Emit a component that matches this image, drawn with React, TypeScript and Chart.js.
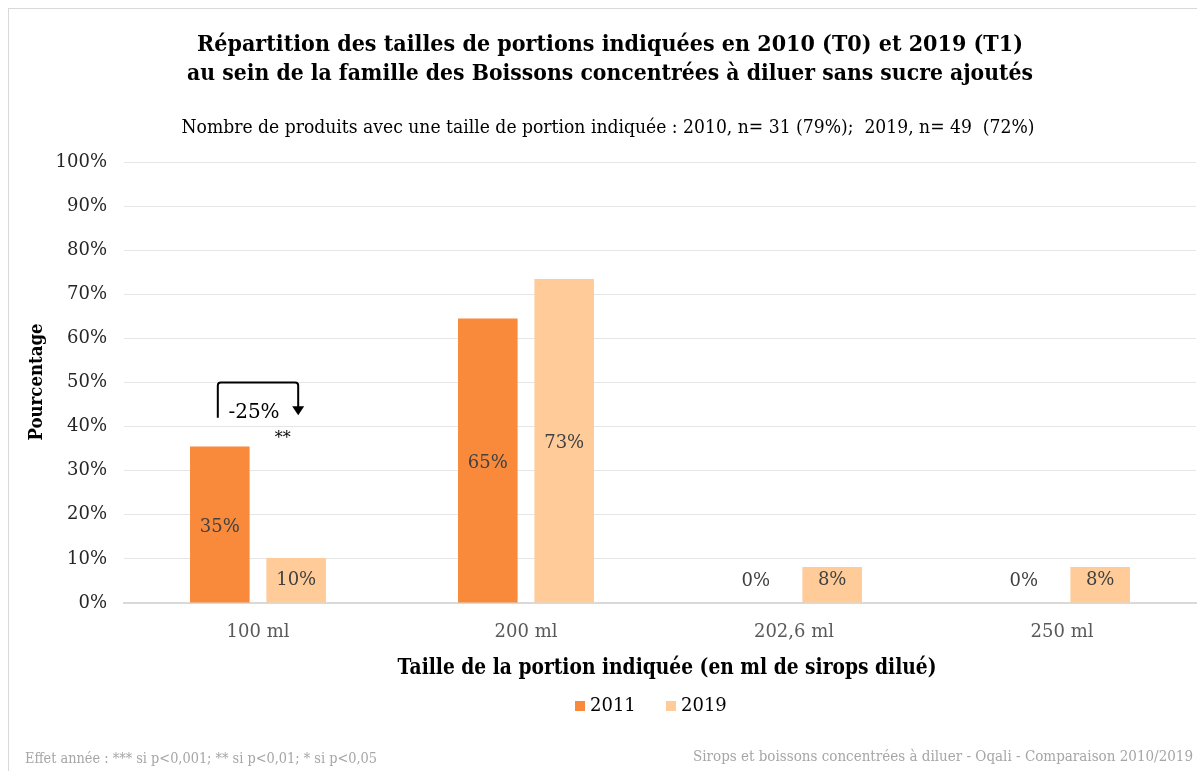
import React, { useEffect, useRef } from "react";
import { Chart, registerables } from "chart.js";

Chart.register(...registerables);

const categories = ["100 ml", "200 ml", "202,6 ml", "250 ml"];
const seriesNames = ["2011", "2019"];
const values2011 = [35.48, 64.52, 0, 0];
const values2019 = [10.2, 73.47, 8.16, 8.16];
const colors = ["#F98A3C", "#FFCC99"];
const titleLines = [
  "Répartition des tailles de portions indiquées en 2010 (T0) et 2019 (T1)",
  "au sein de la famille des Boissons concentrées à diluer sans sucre ajoutés",
];
const subtitle =
  "Nombre de produits avec une taille de portion indiquée : 2010, n= 31 (79%);  2019, n= 49  (72%)";
const yTitle = "Pourcentage";
const xTitle = "Taille de la portion indiquée (en ml de sirops dilué)";
const footLeft = "Effet année : *** si p<0,001; ** si p<0,01; * si p<0,05";
const footRight = "Sirops et boissons concentrées à diluer - Oqali - Comparaison 2010/2019";
const changeLabel = "-25%";
const signifLabel = "**";
const bracketLevel = 50;
const bracketLeftEnd = 42;
const bracketRightEnd = 43;

const FONT = "'DejaVu Serif', serif";

const overlay = {
  id: "overlay",
  beforeDraw(chart: any) {
    const ctx = chart.ctx;
    ctx.save();
    ctx.fillStyle = "#ffffff";
    ctx.fillRect(0, 0, chart.width, chart.height);
    ctx.strokeStyle = "#d9d9d9";
    ctx.lineWidth = 1;
    ctx.strokeRect(8.5, 8.5, chart.width + 20, chart.height + 20);
    ctx.restore();
  },
  afterDraw(chart: any) {
    const ctx = chart.ctx;
    const y = chart.scales.y;
    ctx.save();
    ctx.textBaseline = "middle";
    // titles
    ctx.fillStyle = "#000000";
    ctx.textAlign = "center";
    ctx.font = `bold 23px ${FONT}`;
    ctx.fillText(titleLines[0], 610, 45, 826);
    ctx.fillText(titleLines[1], 610, 74, 846);
    ctx.font = `18px ${FONT}`;
    ctx.fillText(subtitle, 608, 128, 853);
    // axis titles
    ctx.font = `bold 22px ${FONT}`;
    ctx.fillText(xTitle, 667, 668, 539);
    ctx.save();
    ctx.translate(37, 382);
    ctx.rotate(-Math.PI / 2);
    ctx.font = `bold 19px ${FONT}`;
    ctx.fillText(yTitle, 0, 0, 117);
    ctx.restore();
    // legend
    ctx.font = `18px ${FONT}`;
    ctx.textAlign = "left";
    const legendX = [575, 666];
    seriesNames.forEach((n, i) => {
      ctx.fillStyle = colors[i];
      ctx.fillRect(legendX[i], 701, 10, 10);
      ctx.fillStyle = "#000000";
      ctx.fillText(n, legendX[i] + 15, 706);
    });
    // footers
    ctx.fillStyle = "#a6a6a6";
    ctx.font = `15px ${FONT}`;
    ctx.fillText(footLeft, 25, 759, 352);
    ctx.textAlign = "right";
    ctx.fillText(footRight, 1193, 757, 500);
    // bar labels
    ctx.textAlign = "center";
    ctx.font = `18px ${FONT}`;
    ctx.fillStyle = "#404040";
    chart.data.datasets.forEach((ds: any, di: number) => {
      const meta = chart.getDatasetMeta(di);
      meta.data.forEach((bar: any, j: number) => {
        const v = ds.data[j];
        const center = (bar.y + bar.base) / 2 + 3;
        const ly = Math.min(center, bar.base - 22);
        ctx.fillText(`${Math.round(v)}%`, bar.x, ly);
      });
    });
    // annotation bracket
    const b0 = chart.getDatasetMeta(0).data[0];
    const b1 = chart.getDatasetMeta(1).data[0];
    const lx = b0.x - 2;
    const rx = b1.x + 2;
    const ty = y.getPixelForValue(bracketLevel);
    const ly2 = y.getPixelForValue(bracketLeftEnd);
    const ry2 = y.getPixelForValue(bracketRightEnd);
    ctx.strokeStyle = "#000000";
    ctx.lineWidth = 2;
    ctx.beginPath();
    ctx.moveTo(lx, ly2);
    ctx.lineTo(lx, ty + 3);
    ctx.quadraticCurveTo(lx, ty, lx + 3, ty);
    ctx.lineTo(rx - 3, ty);
    ctx.quadraticCurveTo(rx, ty, rx, ty + 3);
    ctx.lineTo(rx, ry2 - 6);
    ctx.stroke();
    ctx.fillStyle = "#000000";
    ctx.beginPath();
    ctx.moveTo(rx - 6, ry2 - 7);
    ctx.lineTo(rx + 6, ry2 - 7);
    ctx.lineTo(rx, ry2 + 2);
    ctx.closePath();
    ctx.fill();
    ctx.font = `20px ${FONT}`;
    ctx.fillText(changeLabel, (lx + rx) / 2 - 4, ly2 - 5);
    ctx.font = `16px ${FONT}`;
    ctx.fillText(signifLabel, b0.x + 63, b0.y - 8);
    ctx.restore();
  },
};

export default function App() {
  const ref = useRef<HTMLCanvasElement>(null);
  useEffect(() => {
    document.body.style.margin = "0";
    const chart = new Chart(ref.current!, {
      type: "bar",
      data: {
        labels: categories,
        datasets: [
          { label: seriesNames[0], data: values2011, backgroundColor: colors[0] },
          { label: seriesNames[1], data: values2019, backgroundColor: colors[1] },
        ],
      },
      options: {
        animation: false,
        responsive: false,
        maintainAspectRatio: false,
        layout: { padding: { top: 162, right: 1, left: 0, bottom: 0 } },
        plugins: { legend: { display: false }, title: { display: false }, tooltip: { enabled: false } },
        datasets: { bar: { categoryPercentage: 0.57, barPercentage: 0.78 } },
        scales: {
          x: {
            grid: { display: false },
            border: { color: "#d9d9d9", width: 2 },
            ticks: { color: "#595959", font: { family: FONT, size: 18 }, padding: 11 },
            afterFit: (s: any) => {
              s.height = 168;
            },
          },
          y: {
            min: 0,
            max: 100,
            grid: { color: "#e6e6e6", drawTicks: false, lineWidth: 1 },
            border: { display: false },
            ticks: {
              stepSize: 10,
              color: "#262626",
              padding: 17,
              font: { family: FONT, size: 18 },
              callback: (v: any) => `${v}%`,
            },
            afterFit: (s: any) => {
              s.width = 124;
            },
          },
        },
      },
      plugins: [overlay],
    } as any);
    return () => chart.destroy();
  }, []);
  return <canvas ref={ref} width={1197} height={771} style={{ display: "block", width: 1197, height: 771 }} />;
}
